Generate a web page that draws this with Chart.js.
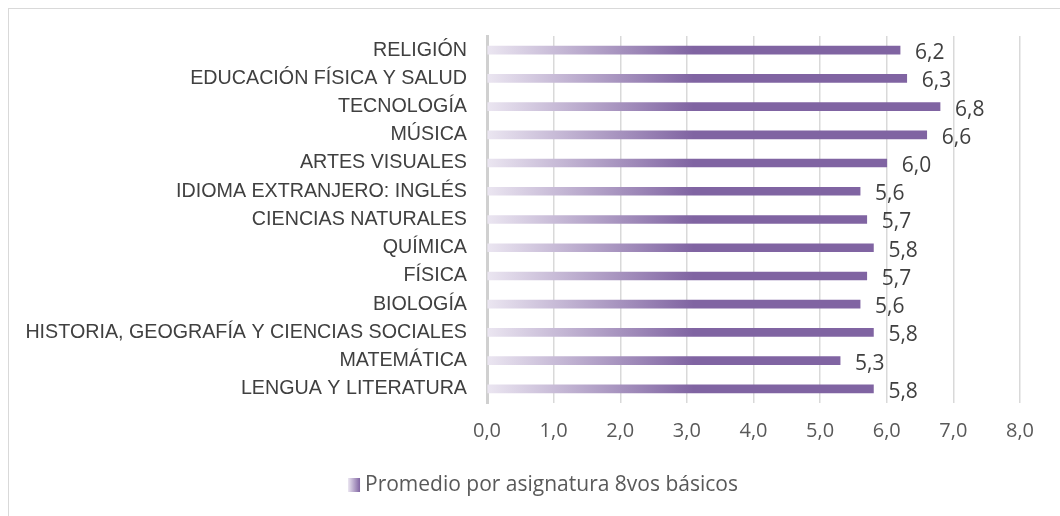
<!DOCTYPE html>
<html>
<head>
<meta charset="utf-8">
<script src="https://cdn.jsdelivr.net/npm/chart.js@4.4.0/dist/chart.umd.min.js"></script>
<style>
  html, body { margin: 0; padding: 0; background: #fff; }
  #wrap { width: 1060px; height: 516px; position: relative; }
  #frame { position: absolute; left: 8px; top: 8px; right: 0; bottom: 0; border-left: 1px solid #d9d9d9; border-top: 1px solid #d9d9d9; pointer-events: none; }
</style>
</head>
<body>
<div id="wrap">
  <canvas id="notasChart" width="1060" height="516"></canvas>
  <div id="frame"></div>
</div>
<script>
const asignaturas = [
    "RELIGIÓN",
    "EDUCACIÓN FÍSICA Y SALUD",
    "TECNOLOGÍA",
    "MÚSICA",
    "ARTES VISUALES",
    "IDIOMA EXTRANJERO: INGLÉS",
    "CIENCIAS NATURALES",
    "QUÍMICA",
    "FÍSICA",
    "BIOLOGÍA",
    "HISTORIA, GEOGRAFÍA Y CIENCIAS SOCIALES",
    "MATEMÁTICA",
    "LENGUA Y LITERATURA"
];
const promedios = [6.2, 6.3, 6.8, 6.6, 6.0, 5.6, 5.7, 5.8, 5.7, 5.6, 5.8, 5.3, 5.8];
const serieNombre = "Promedio por asignatura 8vos básicos";

const colorOscuro = "#8064a2";
const colorClaro = "#ebe6f1";

// Gradiente horizontal como en Excel
function degradado(chart) {
    const area = chart.chartArea;
    if (!area) return colorOscuro;
    const x0 = chart.scales.x.getPixelForValue(0);
    const x1 = chart.scales.x.getPixelForValue(3.1);
    const g = chart.ctx.createLinearGradient(x0, 0, x1, 0);
    g.addColorStop(0, colorClaro);
    g.addColorStop(1, colorOscuro);
    return g;
}

// Etiquetas de valor al final de cada barra
const etiquetasValor = {
    id: "etiquetasValor",
    afterDatasetsDraw(chart) {
        const ctx = chart.ctx;
        const meta = chart.getDatasetMeta(0);
        ctx.save();
        ctx.font = "21px 'Open Sans', sans-serif";
        ctx.fillStyle = "#404040";
        ctx.textAlign = "left";
        ctx.textBaseline = "middle";
        meta.data.forEach((bar, i) => {
            const txt = promedios[i].toFixed(1).replace(".", ",");
            ctx.fillText(txt, bar.x + 15, bar.y + 3);
        });
        ctx.restore();
    }
};

// Leyenda dibujada a mano (centrada como en Excel)
const leyenda = {
    id: "leyenda",
    afterDraw(chart) {
        const ctx = chart.ctx;
        ctx.save();
        ctx.font = "21px 'Open Sans', sans-serif";
        const w = ctx.measureText(serieNombre).width;
        const total = 12 + 5 + w;
        const x = 543 - total / 2;
        const y = 485;
        const g = ctx.createLinearGradient(x, 0, x + 12, 0);
        g.addColorStop(0, colorClaro);
        g.addColorStop(1, colorOscuro);
        ctx.fillStyle = g;
        ctx.fillRect(x, y - 7, 12, 14);
        ctx.fillStyle = "#595959";
        ctx.textAlign = "left";
        ctx.textBaseline = "middle";
        ctx.fillText(serieNombre, x + 17, y);
        ctx.restore();
    }
};

const ctx = document.getElementById("notasChart").getContext("2d");
new Chart(ctx, {
    type: "bar",
    data: {
        labels: asignaturas,
        datasets: [{
            label: serieNombre,
            data: promedios,
            backgroundColor: (c) => degradado(c.chart),
            barThickness: 8,
            borderWidth: 0,
        }],
    },
    options: {
        indexAxis: "y",
        responsive: false,
        animation: false,
        layout: {
            padding: { left: 20, right: 40, top: 36, bottom: 57 },
        },
        scales: {
            x: {
                min: 0,
                max: 8,
                ticks: {
                    stepSize: 1,
                    color: "#595959",
                    font: { family: "'Open Sans', sans-serif", size: 20 },
                    padding: 16,
                    callback: (v) => Number(v).toFixed(1).replace(".", ","),
                },
                grid: { color: "#d9d9d9", lineWidth: 1.5, drawTicks: false },
                border: { display: false },
            },
            y: {
                afterFit: (s) => { s.width = 467; },
                ticks: {
                    autoSkip: false,
                    color: "#404040",
                    font: { family: "'Liberation Sans', Arial, sans-serif", size: 19.7 },
                    padding: 20,
                },
                grid: { display: false, drawTicks: false },
                border: { display: true, color: "#d0d0d0", width: 3 },
            },
        },
        plugins: {
            legend: { display: false },
            tooltip: { enabled: false },
        },
    },
    plugins: [etiquetasValor, leyenda],
});
</script>
</body>
</html>
